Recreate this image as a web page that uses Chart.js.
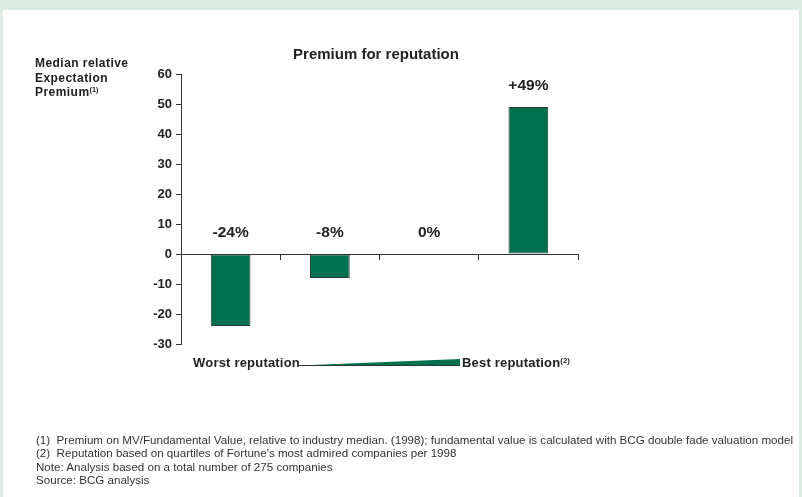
<!DOCTYPE html>
<html>
<head>
<meta charset="utf-8">
<script src="https://cdn.jsdelivr.net/npm/chart.js@4.4.1/dist/chart.umd.min.js"></script>
<style>
  html, body { margin: 0; padding: 0; }
  body { width: 802px; height: 497px; background: #dcece2; position: relative; overflow: hidden;
         font-family: "Liberation Sans", Arial, sans-serif; color: #222; }
  #panel { position: absolute; left: 3px; top: 10px; width: 796px; height: 487px; background: #fff; }
  #chartBox { position: absolute; left: 0; top: 0; width: 802px; height: 497px; }
  .txt { position: absolute; white-space: nowrap; }
  #title { left: 0; width: 752px; top: 45px; text-align: center; font-weight: bold; font-size: 15px; }
  #yTitle { left: 35px; top: 56px; font-weight: bold; font-size: 12px; line-height: 14.5px; letter-spacing: 0.45px; }
  sup { font-size: 0.6em; vertical-align: 0.5em; line-height: 0; letter-spacing: 0; }
  #worst { left: 193px; top: 355px; font-weight: bold; font-size: 13px; letter-spacing: 0.2px; }
  #best { left: 462px; top: 355px; font-weight: bold; font-size: 13px; letter-spacing: 0.2px; }
  #wedge { position: absolute; left: 299px; top: 358px; }
  #notes { left: 36px; top: 433px; font-size: 11.6px; line-height: 13.4px; color: #333; }
</style>
</head>
<body>
<div id="panel"></div>
<div id="chartBox"><canvas id="repChart" width="802" height="497"></canvas></div>
<div class="txt" id="title">Premium for reputation</div>
<div class="txt" id="yTitle">Median relative<br>Expectation<br>Premium<sup>(1)</sup></div>
<div class="txt" id="worst">Worst reputation</div>
<svg id="wedge" width="163" height="9"><polygon points="0,7.5 161,1 161,8 0,8" fill="#00704e"/><line x1="0" y1="7.5" x2="161" y2="7.5" stroke="#2a3a33" stroke-width="1"/></svg>
<div class="txt" id="best">Best reputation<sup>(2)</sup></div>
<div class="txt" id="notes">(1)&nbsp; Premium on MV/Fundamental Value, relative to industry median. (1998); fundamental value is calculated with BCG double fade valuation model<br>(2)&nbsp; Reputation based on quartiles of Fortune's most admired companies per 1998<br>Note: Analysis based on a total number of 275 companies<br>Source: BCG analysis</div>

<script>
// quartiles of reputation, worst -> best
const quartiles = ['Q1', 'Q2', 'Q3', 'Q4'];
const premiums = [-24, -8, 0, 49];
const premiumLabels = ['-24%', '-8%', '0%', '+49%'];
const yTicks = [-30, -20, -10, 0, 10, 20, 30, 40, 50, 60];

// value labels above the bars (or above the zero line for negative ones)
const valueLabels = {
    id: 'valueLabels',
    afterDatasetsDraw(chart) {
        const ctx = chart.ctx;
        const x = chart.scales.x;
        const y = chart.scales.y;
        ctx.save();
        ctx.font = 'bold 15.5px "Liberation Sans", Arial, sans-serif';
        ctx.fillStyle = '#222';
        ctx.textAlign = 'center';
        ctx.textBaseline = 'middle';
        for (let i = 0; i < premiums.length; i++) {
            const top = y.getPixelForValue(Math.max(premiums[i], 0));
            ctx.fillText(premiumLabels[i], x.getPixelForValue(i), top - 21);
        }
        ctx.restore();
    }
};

const ctx = document.getElementById('repChart').getContext('2d');
const repChart = new Chart(ctx, {
    type: 'bar',
    data: {
        labels: quartiles,
        datasets: [{
            data: premiums,
            backgroundColor: '#00704e',
            borderColor: '#2e3b35',
            borderWidth: 1,
            borderSkipped: false,
            barPercentage: 0.4,
            categoryPercentage: 1
        }]
    },
    options: {
        responsive: false,
        animation: false,
        layout: { padding: { left: 0, top: 74, right: 224, bottom: 153 } },
        plugins: { legend: { display: false }, tooltip: { enabled: false } },
        scales: {
            x: {
                position: { y: 0 },
                offset: true,
                ticks: { display: false },
                grid: { offset: true, drawOnChartArea: false, drawTicks: true, tickLength: 5, color: '#333', lineWidth: 1 },
                border: { display: true, color: '#333', width: 1 }
            },
            y: {
                min: -30,
                max: 60,
                afterBuildTicks: scale => { scale.ticks = yTicks.map(v => ({ value: v })); },
                afterFit: scale => { scale.width = 181; },
                ticks: {
                    padding: 4,
                    color: '#222',
                    font: { family: '"Liberation Sans", Arial, sans-serif', size: 13, weight: 'bold' }
                },
                grid: { drawOnChartArea: false, drawTicks: true, tickLength: 5, color: '#333' },
                border: { display: true, color: '#333', width: 1 }
            }
        }
    },
    plugins: [valueLabels]
});
</script>
</body>
</html>
